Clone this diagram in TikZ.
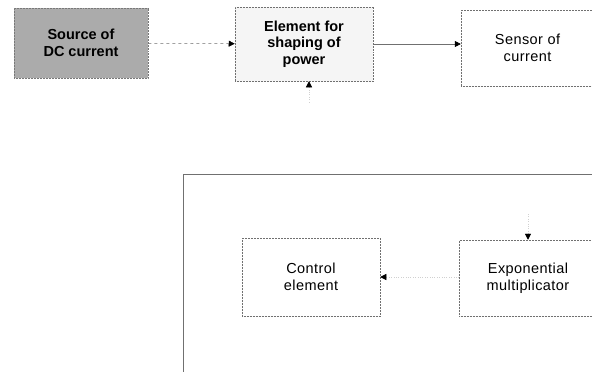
\documentclass[tikz,border=0pt]{standalone}
\usepackage{fontspec}
\setmainfont{Liberation Sans}
\usetikzlibrary{positioning,arrows.meta}
\definecolor{cSrc}{HTML}{ABABAB}
\definecolor{cShape}{HTML}{F5F5F5}
\definecolor{cLine}{HTML}{707070}
\definecolor{cFaint}{HTML}{D0D0D0}

\begin{document}
\begin{tikzpicture}[
  x=1pt,y=-1pt,
  font=\fontsize{14.5}{17.5}\selectfont\addfontfeature{LetterSpace=3},
  >={Triangle[length=6pt,width=6pt,color=black]},
  box/.style={draw=cLine,densely dotted,line width=0.5pt,align=center,inner sep=0pt},
  srcbox/.style={box,fill=cSrc,draw=cSrc!70!black,font=\fontsize{14.5}{16.5}\selectfont\bfseries},
  shapebox/.style={box,fill=cShape,font=\fontsize{14.5}{16.5}\selectfont\bfseries},
  flow/.style={->,line width=0.5pt,cLine},
  faint/.style={->,line width=0.4pt,cFaint,dotted},
]
\useasboundingbox (0,0) rectangle (592,372);
\clip (0,0) rectangle (592,372);
\fill[white] (0,0) rectangle (592,372);

% ---------- POWER PATH ----------
\node[srcbox,minimum width=134pt,minimum height=70pt] (dc) at (81,43) {Source of\\DC current};
\node[shapebox,minimum width=138pt,minimum height=74pt] (elem) at (304,44) {Element for\\shaping of\\power};
\node[box,minimum width=133pt,minimum height=76pt] (sens) at (527.5,48) {Sensor of\\current};

% ---------- CONTROL LOOP ----------
\node[draw=cLine,line width=0.5pt,minimum width=437pt,minimum height=226pt,inner sep=0pt] (loop) at (401.5,287) {};
\node[box,minimum width=138pt,minimum height=78pt] (ctrl) at (311,277) {Control\\element};
\node[box,minimum width=138pt,minimum height=76pt] (expm) at (528,278) {Exponential\\multiplicator};

\coordinate (fbIn) at (309,102);
\coordinate (expIn) at (528,214);

% ---------- ARROWS ----------
\draw[flow,dashed] (dc) -- (elem);
\draw[flow] (elem) -- (sens.west|-elem);
\draw[faint] (fbIn) -- (elem.south-|fbIn);
\draw[faint] (expm.west|-ctrl) -- (ctrl.east);
\draw[faint] (expIn) -- (expm.north);

\end{tikzpicture}
\end{document}
